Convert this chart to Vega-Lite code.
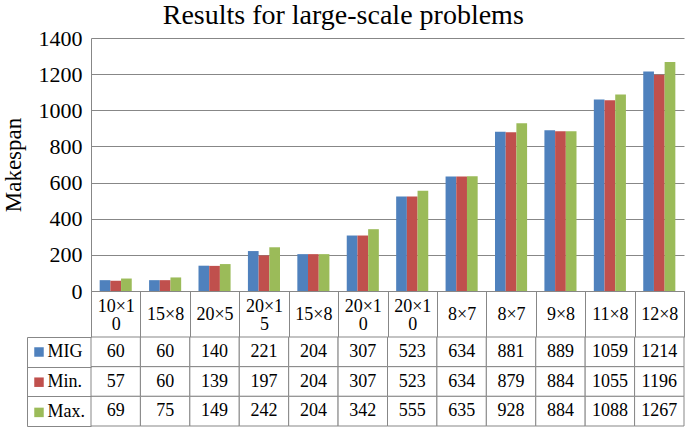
{
  "$schema": "https://vega.github.io/schema/vega-lite/v6.json",
  "padding": {"left": 2, "top": 2, "right": 0, "bottom": 0},
  "config": {
    "font": "Liberation Serif",
    "view": {"stroke": null},
    "axis": {"labelFont": "Liberation Serif", "titleFont": "Liberation Serif"},
    "legend": {"labelFont": "Liberation Serif"},
    "text": {"font": "Liberation Serif"}
  },
  "title": {
    "text": "Results for large-scale problems",
    "fontSize": 28,
    "fontWeight": "normal",
    "font": "Liberation Serif",
    "color": "black",
    "anchor": "middle",
    "offset": -3
  },
  "data": {
    "values": [
      {"id": 0, "instance": "10×10", "series": "MIG", "value": 60},
      {"id": 0, "instance": "10×10", "series": "Min.", "value": 57},
      {"id": 0, "instance": "10×10", "series": "Max.", "value": 69},
      {"id": 1, "instance": "15×8", "series": "MIG", "value": 60},
      {"id": 1, "instance": "15×8", "series": "Min.", "value": 60},
      {"id": 1, "instance": "15×8", "series": "Max.", "value": 75},
      {"id": 2, "instance": "20×5", "series": "MIG", "value": 140},
      {"id": 2, "instance": "20×5", "series": "Min.", "value": 139},
      {"id": 2, "instance": "20×5", "series": "Max.", "value": 149},
      {"id": 3, "instance": "20×15", "series": "MIG", "value": 221},
      {"id": 3, "instance": "20×15", "series": "Min.", "value": 197},
      {"id": 3, "instance": "20×15", "series": "Max.", "value": 242},
      {"id": 4, "instance": "15×8", "series": "MIG", "value": 204},
      {"id": 4, "instance": "15×8", "series": "Min.", "value": 204},
      {"id": 4, "instance": "15×8", "series": "Max.", "value": 204},
      {"id": 5, "instance": "20×10", "series": "MIG", "value": 307},
      {"id": 5, "instance": "20×10", "series": "Min.", "value": 307},
      {"id": 5, "instance": "20×10", "series": "Max.", "value": 342},
      {"id": 6, "instance": "20×10", "series": "MIG", "value": 523},
      {"id": 6, "instance": "20×10", "series": "Min.", "value": 523},
      {"id": 6, "instance": "20×10", "series": "Max.", "value": 555},
      {"id": 7, "instance": "8×7", "series": "MIG", "value": 634},
      {"id": 7, "instance": "8×7", "series": "Min.", "value": 634},
      {"id": 7, "instance": "8×7", "series": "Max.", "value": 635},
      {"id": 8, "instance": "8×7", "series": "MIG", "value": 881},
      {"id": 8, "instance": "8×7", "series": "Min.", "value": 879},
      {"id": 8, "instance": "8×7", "series": "Max.", "value": 928},
      {"id": 9, "instance": "9×8", "series": "MIG", "value": 889},
      {"id": 9, "instance": "9×8", "series": "Min.", "value": 884},
      {"id": 9, "instance": "9×8", "series": "Max.", "value": 884},
      {"id": 10, "instance": "11×8", "series": "MIG", "value": 1059},
      {"id": 10, "instance": "11×8", "series": "Min.", "value": 1055},
      {"id": 10, "instance": "11×8", "series": "Max.", "value": 1088},
      {"id": 11, "instance": "12×8", "series": "MIG", "value": 1214},
      {"id": 11, "instance": "12×8", "series": "Min.", "value": 1196},
      {"id": 11, "instance": "12×8", "series": "Max.", "value": 1267}
    ]
  },
  "spacing": 46,
  "bounds": "flush",
  "resolve": {"legend": {"color": "independent"}},
  "vconcat": [
    {
      "width": 593,
      "height": 253,
      "mark": {"type": "bar"},
      "encoding": {
        "x": {
          "field": "id",
          "type": "ordinal",
          "scale": {"paddingInner": 0, "paddingOuter": 0},
          "axis": {
            "title": null,
            "domain": true,
            "domainColor": "#878787",
            "ticks": true,
            "tickBand": "extent",
            "tickSize": 46,
            "tickColor": "#878787",
            "grid": false,
            "labelAngle": 0,
            "labelFont": "Liberation Serif",
            "labelFontSize": 18,
            "labelColor": "black",
            "labelBaseline": "middle",
            "labelPadding": {"condition": {"test": "datum.value == 0 || datum.value == 3 || datum.value == 5 || datum.value == 6", "value": -31}, "value": -23},
            "labelLineHeight": 18,
            "labelOverlap": false,
            "labelExpr": "[['10×1','0'],['15×8'],['20×5'],['20×1','5'],['15×8'],['20×1','0'],['20×1','0'],['8×7'],['8×7'],['9×8'],['11×8'],['12×8']][datum.value]"
          }
        },
        "xOffset": {
          "field": "series",
          "type": "nominal",
          "sort": ["MIG", "Min.", "Max."],
          "scale": {"paddingInner": 0, "paddingOuter": 0.81}
        },
        "y": {
          "field": "value",
          "type": "quantitative",
          "scale": {"domain": [0, 1400]},
          "axis": {
            "title": "Makespan",
            "titleFont": "Liberation Serif",
            "titleFontSize": 23,
            "titleFontWeight": "normal",
            "titleColor": "black",
            "titlePadding": 13,
            "values": [0, 200, 400, 600, 800, 1000, 1200, 1400],
            "format": "d",
            "grid": true,
            "gridColor": "#878787",
            "domain": true,
            "domainColor": "#878787",
            "ticks": false,
            "labelFont": "Liberation Serif",
            "labelFontSize": 22,
            "labelColor": "black",
            "labelPadding": 9
          }
        },
        "color": {
          "field": "series",
          "type": "nominal",
          "sort": ["MIG", "Min.", "Max."],
          "scale": {"domain": ["MIG", "Min.", "Max."], "range": ["#4F81BD", "#C0504D", "#9BBB59"]},
          "legend": {
            "orient": "none",
            "legendX": -57,
            "legendY": 309,
            "title": null,
            "direction": "vertical",
            "symbolType": "square",
            "symbolSize": 90,
            "symbolStrokeWidth": 0,
            "symbolOpacity": 1,
            "labelExpr": "''",
            "labelFontSize": 1,
            "labelOffset": 0,
            "rowPadding": 20.2,
            "padding": 0
          }
        }
      }
    },
    {
      "width": 593,
      "height": 89,
      "layer": [
        {
          "mark": {"type": "rect", "fill": "white", "stroke": "#878787", "strokeWidth": 1}
        },
        {
          "mark": {"type": "text", "fontSize": 18, "font": "Liberation Serif", "color": "black", "baseline": "middle"},
          "encoding": {
            "text": {"field": "value", "type": "nominal"}
          }
        }
      ],
      "encoding": {
        "x": {
          "field": "id",
          "type": "ordinal",
          "scale": {"paddingInner": 0, "paddingOuter": 0},
          "axis": null
        },
        "y": {
          "field": "series",
          "type": "nominal",
          "sort": ["MIG", "Min.", "Max."],
          "scale": {"paddingInner": 0, "paddingOuter": 0},
          "axis": {
            "title": null,
            "offset": 64,
            "domain": true,
            "domainColor": "#878787",
            "ticks": true,
            "tickSize": -64,
            "tickColor": "#878787",
            "tickBand": "extent",
            "grid": false,
            "labels": true,
            "labelAlign": "left",
            "labelBaseline": "middle",
            "labelPadding": 44,
            "labelFont": "Liberation Serif",
            "labelFontSize": 18,
            "labelColor": "black"
          }
        }
      }
    }
  ]
}
